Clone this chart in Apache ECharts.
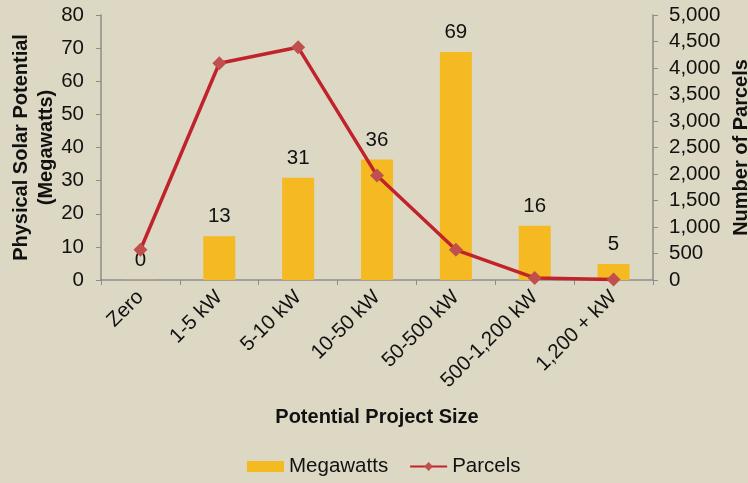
<!DOCTYPE html>
<html><head><meta charset="utf-8">
<script src="https://cdn.jsdelivr.net/npm/echarts@6/dist/echarts.min.js"></script>
<style>html,body{margin:0;padding:0;background:#ddd8c4;}#c{width:748px;height:483px;}</style>
</head><body><div id="c"></div>
<script>
const categories = ['Zero','1-5 kW','5-10 kW','10-50 kW','50-500 kW','500-1,200 kW','1,200 + kW'];
const megawatts = [0.1, 13.2, 30.9, 36.4, 68.8, 16.4, 4.8];
const parcels = [570, 4090, 4390, 1970, 570, 40, 10];
const leftTicks = [0, 80, 10];
const rightTicks = [0, 5000, 500];

const font = 'Liberation Sans, Arial, sans-serif';
const fs = 20.5;
const chart = echarts.init(document.getElementById('c'));
chart.setOption({
  backgroundColor: '#ddd8c4',
  animation: false,
  textStyle: {fontFamily: font},
  grid: {left: 101, right: 95, top: 15, bottom: 203, containLabel: false, outerBoundsMode: 'none'},
  legend: {
    bottom: 1, left: 242, itemGap: 21,
    itemWidth: 37, itemHeight: 11,
    textStyle: {fontSize: fs, color: '#111', fontFamily: font},
    data: [{name: 'Megawatts', icon: 'rect'}, {name: 'Parcels'}]
  },
  xAxis: {
    type: 'category', data: categories,
    name: 'Potential Project Size', nameLocation: 'middle', nameGap: 127,
    nameMoveOverlap: false,
    nameTextStyle: {fontSize: 20, fontWeight: 'bold', color: '#111'},
    axisLine: {lineStyle: {color: '#8c8c8c', width: 1.5}},
    axisTick: {show: true, length: 5, lineStyle: {color: '#8c8c8c'}},
    axisLabel: {rotate: 45, fontSize: fs, color: '#111', margin: 14, interval: 0}
  },
  yAxis: [{
    type: 'value', min: leftTicks[0], max: leftTicks[1], interval: leftTicks[2],
    name: 'Physical Solar Potential\n(Megawatts)', nameLocation: 'middle', nameGap: 42,
    nameMoveOverlap: false,
    nameTextStyle: {fontSize: 20, fontWeight: 'bold', color: '#111', lineHeight: 25},
    axisLine: {show: true, lineStyle: {color: '#8c8c8c', width: 1.5}},
    axisTick: {show: true, length: 5, lineStyle: {color: '#8c8c8c'}},
    axisLabel: {fontSize: fs, color: '#111', margin: 17},
    splitLine: {show: false}
  }, {
    type: 'value', min: rightTicks[0], max: rightTicks[1], interval: rightTicks[2],
    name: 'Number of Parcels', nameLocation: 'middle', nameGap: 78,
    nameMoveOverlap: false,
    nameTextStyle: {fontSize: 20, fontWeight: 'bold', color: '#111'},
    axisLine: {show: true, lineStyle: {color: '#8c8c8c', width: 1.5}},
    axisTick: {show: true, length: 5, lineStyle: {color: '#8c8c8c'}},
    axisLabel: {fontSize: fs, color: '#111', margin: 16,
      formatter: v => v.toLocaleString('en-US')},
    splitLine: {show: false}
  }],
  series: [{
    name: 'Megawatts', type: 'bar', data: megawatts, barWidth: 32,
    itemStyle: {color: '#f5b921'},
    label: {show: true, position: 'top', distance: 9, fontSize: fs, color: '#111',
      formatter: p => Math.round(p.value)}
  }, {
    name: 'Parcels', type: 'line', yAxisIndex: 1, data: parcels,
    symbol: 'diamond', symbolSize: 14,
    lineStyle: {color: '#c0232b', width: 3.5},
    itemStyle: {color: '#c0504d'}
  }]
});
</script></body></html>
